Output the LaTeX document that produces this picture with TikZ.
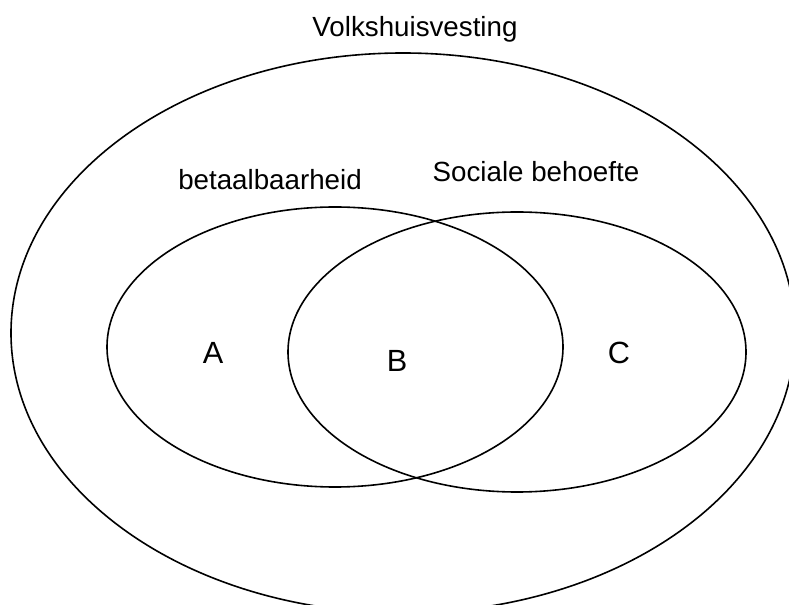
\documentclass[tikz,border=0pt]{standalone}
\usepackage{fontspec}
\setmainfont{Liberation Sans}
\begin{document}
\begin{tikzpicture}[x=0.75pt, y=-0.75pt, line width=1.2pt,
		setlabel/.style={anchor=base, font=\fontsize{20.8}{24}\selectfont},
		partlabel/.style={anchor=base, font=\fontsize{23}{27}\selectfont}]
				\clip (0,0) rectangle (789,605);
				\draw (403,333) ellipse [x radius=392, y radius=280];
				\draw (335,347) ellipse [x radius=228, y radius=140];
				\draw (517,352) ellipse [x radius=229, y radius=140];
				\node [setlabel] (volk) at (415,37) {Volkshuisvesting};
				\node [setlabel] (betaal) at (270,190) {betaalbaarheid};
				\node [setlabel] (sociaal) at (536,182) {Sociale behoefte};
				\node [partlabel] (A) at (213,364) {A};
				\node [partlabel] (B) at (397,372) {B};
				\node [partlabel] (C) at (619,364) {C};
			\end{tikzpicture}
\end{document}
